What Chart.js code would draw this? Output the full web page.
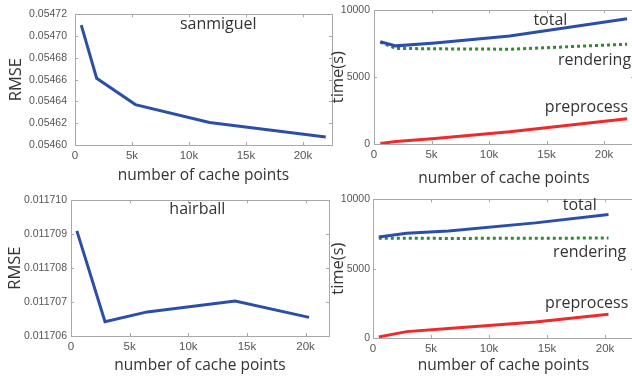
<!DOCTYPE html>
<html><head><meta charset="utf-8">
<script src="https://cdn.jsdelivr.net/npm/chart.js@4.4.1/dist/chart.umd.min.js"></script>
<style>
html,body{margin:0;padding:0;background:#fff;overflow:hidden;width:632px;height:377px;}
.c{position:absolute;}
</style></head>
<body>
<div class="c" style="left:0;top:0;width:340px;height:190px"><canvas id="c1"></canvas></div>
<div class="c" style="left:310px;top:0;width:324px;height:190px"><canvas id="c2"></canvas></div>
<div class="c" style="left:0;top:190px;width:340px;height:187px"><canvas id="c3"></canvas></div>
<div class="c" style="left:310px;top:190px;width:324px;height:187px"><canvas id="c4"></canvas></div>
<script>
// ---- data ----
const xTickValues = [0, 5000, 10000, 15000, 20000];
const xTickLabels = ['0', '5k', '10k', '15k', '20k'];

const sanmiguelX = [550, 1900, 5300, 11800, 22000];
const sanmiguelRMSE = [0.054710, 0.0546613, 0.0546371, 0.0546207, 0.0546074];
const sanmiguelTotal = [7650, 7340, 7560, 8080, 9370];
const sanmiguelRendering = [7620, 7150, 7120, 7090, 7460];
const sanmiguelPreprocess = [35, 190, 420, 910, 1880];
const sanmiguelRMSETicks = [0.05460, 0.05462, 0.05464, 0.05466, 0.05468, 0.05470, 0.05472];

const hairballX = [500, 2900, 6500, 14000, 20300];
const hairballRMSE = [0.0117091, 0.01170642, 0.01170671, 0.01170703, 0.01170655];
const hairballTotal = [7280, 7560, 7720, 8300, 8910];
const hairballRendering = [7200, 7190, 7180, 7190, 7210];
const hairballPreprocess = [80, 460, 680, 1150, 1710];
const hairballRMSETicks = [0.011706, 0.011707, 0.011708, 0.011709, 0.011710];

const timeTicks = [0, 5000, 10000];

// ---- styles ----
const BLUE = '#2b4fa6', RED = '#ee2a2a', GREEN = '#2f8a2f';
const YTICKFONT = {family: 'Liberation Sans', size: 10.5};
const XTICKFONT = {family: 'Liberation Sans', size: 11.5};
const TITLEFONT = {family: 'Open Sans', size: 15.5};

const boxPlugin = {
  id: 'box',
  afterDatasetsDraw(chart) {
    const {ctx, chartArea: a, scales} = chart;
    ctx.save();
    ctx.strokeStyle = '#a8a8a8';
    ctx.lineWidth = 1;
    ctx.strokeRect(Math.round(a.left) + 0.5, Math.round(a.top) + 0.5,
      Math.round(a.right - a.left), Math.round(a.bottom - a.top));
    const L = 3;
    ctx.beginPath();
    scales.x.ticks.forEach(t => {
      const p = Math.round(scales.x.getPixelForValue(t.value)) + 0.5;
      ctx.moveTo(p, a.bottom); ctx.lineTo(p, a.bottom - L);
      ctx.moveTo(p, a.top); ctx.lineTo(p, a.top + L);
    });
    scales.y.ticks.forEach(t => {
      const p = Math.round(scales.y.getPixelForValue(t.value)) + 0.5;
      ctx.moveTo(a.left, p); ctx.lineTo(a.left + L, p);
      ctx.moveTo(a.right, p); ctx.lineTo(a.right - L, p);
    });
    ctx.stroke();
    ctx.restore();
  }
};

const labelPlugin = {
  id: 'labels',
  afterDatasetsDraw(chart, args, opts) {
    const {ctx, scales} = chart;
    ctx.save();
    ctx.fillStyle = '#333';
    ctx.font = '16px "Open Sans"';
    ctx.textAlign = 'center';
    ctx.textBaseline = 'middle';
    (opts.items || []).forEach(it => {
      ctx.fillText(it.text, scales.x.getPixelForValue(it.x), scales.y.getPixelForValue(it.y));
    });
    ctx.restore();
  }
};

function makeChart(id, cfg) {
  const ds = cfg.series.map(s => ({
    data: s.y.map((v, i) => ({x: s.x[i], y: v})),
    borderColor: s.color,
    borderWidth: 3,
    borderDash: s.dash || [],
    pointRadius: 0,
    tension: 0,
    fill: false,
    order: s.order || 0
  }));
  return new Chart(document.getElementById(id), {
    type: 'line',
    data: {datasets: ds},
    plugins: [boxPlugin, labelPlugin],
    options: {
      responsive: true,
      maintainAspectRatio: false,
      animation: false,
      layout: {padding: {top: cfg.padTop, right: cfg.padRight, left: 0, bottom: 0}},
      plugins: {legend: {display: false}, tooltip: {enabled: false}, labels: {items: cfg.labels}},
      scales: {
        x: {
          type: 'linear', min: 0, max: cfg.xMax,
          grid: {display: false, drawTicks: false},
          border: {display: false},
          afterBuildTicks: ax => { ax.ticks = xTickValues.map(v => ({value: v})); },
          afterFit: ax => { ax.height = cfg.xH; },
          ticks: {
            color: '#555', font: XTICKFONT, padding: 4, maxRotation: 0, autoSkip: false,
            callback: v => xTickLabels[xTickValues.indexOf(v)]
          },
          title: {display: true, text: 'number of cache points', color: '#333', font: TITLEFONT,
                  padding: {top: 0, bottom: cfg.xTitlePad}}
        },
        y: {
          type: 'linear', min: cfg.yMin, max: cfg.yMax,
          grid: {display: false, drawTicks: false},
          border: {display: false},
          afterBuildTicks: ax => { ax.ticks = cfg.yTicks.map(v => ({value: v})); },
          afterFit: ax => { ax.width = cfg.yW; },
          ticks: {color: '#555', font: YTICKFONT, padding: cfg.yTickPad, autoSkip: false,
                  callback: cfg.yFmt},
          title: {display: true, text: cfg.yTitle, color: '#333', font: {family: 'Open Sans', size: 16.5},
                  padding: {top: cfg.yTitlePad, bottom: 0}}
        }
      }
    }
  });
}

makeChart('c1', {
  series: [{x: sanmiguelX, y: sanmiguelRMSE, color: BLUE}],
  xMax: 22550, yMin: 0.05460, yMax: 0.05472, yTicks: sanmiguelRMSETicks,
  yFmt: v => v.toFixed(5), yTitle: 'RMSE',
  padTop: 10, padRight: 8, xH: 45, yW: 75, yTickPad: 8, xTitlePad: 5, yTitlePad: 6,
  labels: [{text: 'sanmiguel', x: 12570, y: 0.0547111}]
});
makeChart('c2', {
  series: [
    {x: sanmiguelX, y: sanmiguelRendering, color: GREEN, dash: [3, 3], order: 2},
    {x: sanmiguelX, y: sanmiguelTotal, color: BLUE, order: 1},
    {x: sanmiguelX, y: sanmiguelPreprocess, color: RED, order: 0}
  ],
  xMax: 22600, yMin: 0, yMax: 10000, yTicks: timeTicks,
  yFmt: v => String(v), yTitle: 'time(s)',
  padTop: 10, padRight: 0, xH: 46, yW: 64, yTickPad: 4, xTitlePad: 2, yTitlePad: 18,
  labels: [
    {text: 'total', x: 15331, y: 9254},
    {text: 'rendering', x: 19164, y: 6269},
    {text: 'preprocess', x: 18467, y: 2761}
  ]
});
makeChart('c3', {
  series: [{x: hairballX, y: hairballRMSE, color: BLUE}],
  xMax: 22000, yMin: 0.011706, yMax: 0.011710, yTicks: hairballRMSETicks,
  yFmt: v => v.toFixed(6), yTitle: 'RMSE',
  padTop: 9, padRight: 11, xH: 41, yW: 71, yTickPad: 4, xTitlePad: 2, yTitlePad: 5,
  labels: [{text: 'hairball', x: 10776, y: 0.01170974}]
});
makeChart('c4', {
  series: [
    {x: hairballX, y: hairballRendering, color: GREEN, dash: [3, 3], order: 2},
    {x: hairballX, y: hairballTotal, color: BLUE, order: 1},
    {x: hairballX, y: hairballPreprocess, color: RED, order: 0}
  ],
  xMax: 22500, yMin: 0, yMax: 10000, yTicks: timeTicks,
  yFmt: v => String(v), yTitle: 'time(s)',
  padTop: 9, padRight: 0, xH: 39, yW: 63, yTickPad: 3, xTitlePad: 2, yTitlePad: 18,
  labels: [
    {text: 'total', x: 17819, y: 9567},
    {text: 'rendering', x: 18681, y: 6200},
    {text: 'preprocess', x: 18422, y: 2480}
  ]
});
</script>
</body></html>
